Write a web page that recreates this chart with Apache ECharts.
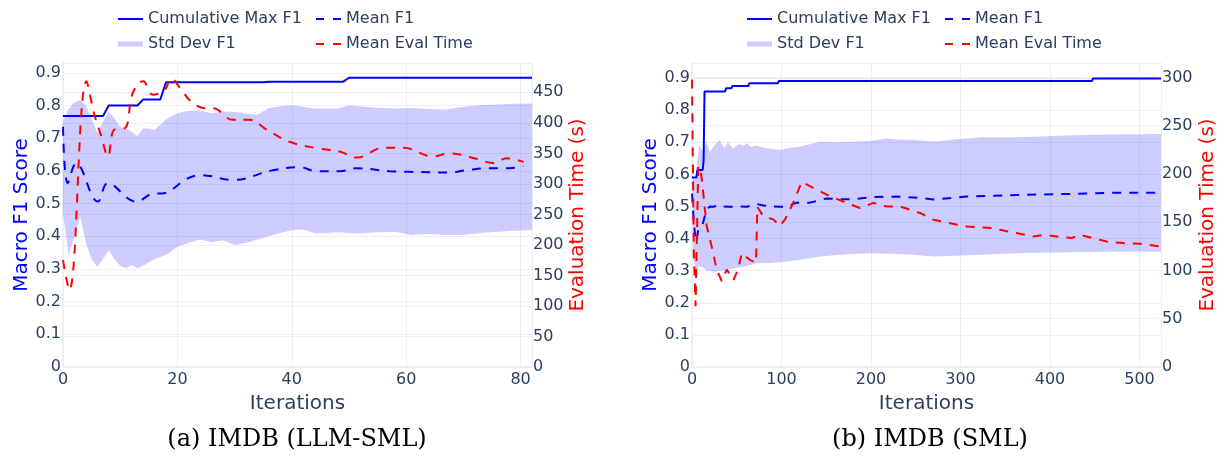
<!DOCTYPE html>
<html>
<head>
<meta charset="utf-8">
<script src="https://cdn.jsdelivr.net/npm/echarts@6/dist/echarts.min.js"></script>
<style>
  html, body { margin: 0; padding: 0; background: #fff; }
  #chart { width: 1225px; height: 459px; }
</style>
</head>
<body>
<div id="chart"></div>
<script>
// ---- (a) IMDB (LLM-SML) ----
var cumMaxXA = [0, 7, 8, 13, 14, 17, 18, 35, 36, 49, 50, 82];
var cumMaxA  = [0.768, 0.768, 0.80, 0.80, 0.818, 0.818, 0.871, 0.871, 0.873, 0.873, 0.885, 0.885];

var meanXA = [0, 0.85, 2.3, 6.1, 7.85, 12.8, 16, 17.2, 21.8, 24.2, 29.7, 36.7, 41.4, 44.3, 48.4, 51.3, 57.1, 60.6, 67.6, 70.6, 74.6, 78.1, 80.5];
var meanA  = [0.735, 0.562, 0.623, 0.506, 0.562, 0.506, 0.531, 0.531, 0.577, 0.587, 0.572, 0.602, 0.611, 0.599, 0.599, 0.608, 0.599, 0.597, 0.595, 0.602, 0.608, 0.608, 0.615];

var timeXA = [0, 1.1, 4.1, 5.5, 6.7, 7.85, 9, 10.8, 12.2, 14, 15.7, 17.8, 18.9, 20.7, 22.4, 24.8, 26.2, 29.7, 32.6, 35.6, 39.6, 44.6, 48.4, 51.3, 56, 59.5, 64.7, 67.6, 72.3, 75.2, 77.6, 80.5];
var timeA  = [175, 126, 468, 413, 378, 345, 389, 391, 449, 468, 446, 454, 473, 454, 435, 424, 424, 405, 405, 389, 369, 358, 353, 343, 359, 359, 345, 350, 341, 334, 342, 336];

var bandXA  = [0, 1, 2, 3, 4, 5, 6, 7, 8, 9, 10, 11, 12, 13, 14, 15, 16, 18, 20, 22, 24, 26, 28, 30, 32, 34, 36, 38, 40, 42, 44, 46, 48, 50, 52, 55, 58, 61, 64, 67, 70, 73, 76, 79, 82];
var bandHiA = [0.75, 0.79, 0.81, 0.817, 0.80, 0.76, 0.715, 0.75, 0.781, 0.76, 0.735, 0.73, 0.72, 0.706, 0.73, 0.73, 0.725, 0.757, 0.776, 0.784, 0.785, 0.776, 0.782, 0.78, 0.775, 0.772, 0.792, 0.798, 0.801, 0.796, 0.791, 0.79, 0.791, 0.80, 0.797, 0.793, 0.791, 0.792, 0.789, 0.788, 0.796, 0.801, 0.803, 0.805, 0.806];
var bandLoA = [0.47, 0.34, 0.40, 0.46, 0.38, 0.33, 0.307, 0.33, 0.358, 0.33, 0.31, 0.302, 0.312, 0.302, 0.31, 0.32, 0.33, 0.343, 0.368, 0.38, 0.39, 0.382, 0.388, 0.373, 0.38, 0.39, 0.40, 0.41, 0.418, 0.421, 0.409, 0.41, 0.412, 0.41, 0.409, 0.412, 0.414, 0.404, 0.407, 0.404, 0.404, 0.41, 0.414, 0.417, 0.419];

// ---- (b) IMDB (SML) ----
var cumMaxXB = [0, 5, 6, 12, 13, 14, 37, 38, 44, 45, 63, 64, 96, 97, 447, 448, 524];
var cumMaxB  = [0.59, 0.59, 0.614, 0.614, 0.645, 0.858, 0.858, 0.868, 0.868, 0.875, 0.875, 0.884, 0.884, 0.891, 0.891, 0.899, 0.899];

var meanXB = [0, 2, 4, 5, 7, 9, 12, 14, 16, 20, 24, 30, 35, 42, 50, 61, 72, 80, 90, 98, 106, 117, 132, 150, 165, 180, 199, 229, 254, 270, 307, 363, 419, 471, 523];
var meanB  = [0.54, 0.45, 0.40, 0.39, 0.43, 0.427, 0.445, 0.44, 0.489, 0.50, 0.499, 0.505, 0.50, 0.499, 0.50, 0.499, 0.508, 0.503, 0.50, 0.499, 0.499, 0.512, 0.512, 0.525, 0.523, 0.522, 0.529, 0.531, 0.527, 0.522, 0.531, 0.536, 0.539, 0.543, 0.543];

var timeXB = [0, 2, 4, 7, 9.7, 12.6, 16.4, 22, 27.6, 33.2, 38.8, 46.2, 51.8, 55.5, 64.8, 71.5, 73, 79.7, 90.8, 98.3, 104, 113, 122.6, 135.5, 150.5, 172.8, 187.7, 202.6, 217.5, 232.4, 254.7, 269.6, 306.9, 336.7, 344, 381, 394, 407.5, 424, 433.5, 463.3, 482, 500.6, 523];
var timeB  = [298, 120, 63, 208, 204, 180, 146, 125, 101, 89, 101, 90, 102, 118, 111, 108, 166, 156, 153, 146, 153, 170, 192, 185.5, 178.6, 170, 164.7, 170, 166.4, 166.4, 159.6, 152.6, 145.6, 144, 142.2, 135.3, 137, 135.3, 133.6, 137, 130, 128.4, 127.7, 124.9];

var bandXB  = [1, 3, 5, 8, 10, 13, 16, 20, 25, 31, 36, 40, 46, 52, 58, 61, 66, 72, 80, 90, 98, 110, 120, 143, 160, 180, 200, 217, 230, 250, 270, 300, 325, 350, 381, 410, 437, 470, 500, 524];
var bandHiB = [0.59, 0.58, 0.62, 0.69, 0.681, 0.67, 0.702, 0.67, 0.69, 0.707, 0.68, 0.70, 0.681, 0.695, 0.69, 0.697, 0.685, 0.69, 0.683, 0.679, 0.676, 0.683, 0.686, 0.702, 0.70, 0.702, 0.705, 0.712, 0.709, 0.707, 0.702, 0.71, 0.716, 0.715, 0.717, 0.72, 0.723, 0.724, 0.725, 0.726];
var bandLoB = [0.34, 0.32, 0.30, 0.315, 0.312, 0.31, 0.30, 0.30, 0.297, 0.30, 0.30, 0.305, 0.307, 0.31, 0.313, 0.315, 0.318, 0.323, 0.323, 0.325, 0.326, 0.33, 0.333, 0.344, 0.348, 0.352, 0.354, 0.353, 0.352, 0.349, 0.344, 0.347, 0.35, 0.353, 0.356, 0.357, 0.358, 0.359, 0.36, 0.359];

var BLUE = '#0000ff', RED = '#ff0000', BAND = 'rgba(0,0,255,0.2)';
var GRIDC = '#EBF0F8', TXT = '#2a3f5f', FONT = 'DejaVu Sans';

function zip(xs, ys) { return xs.map(function (x, i) { return [x, ys[i]]; }); }

var chart = echarts.init(document.getElementById('chart'));

function xAx(idx, max) {
  return {
    type: 'value', gridIndex: idx, min: 0, max: max, interval: idx ? 100 : 20,
    name: 'Iterations', nameLocation: 'middle', nameGap: 27,
    nameTextStyle: { fontSize: 20, color: TXT, fontFamily: FONT },
    axisLine: { show: true, lineStyle: { color: GRIDC, width: 2 } },
    axisTick: { show: false },
    axisLabel: { fontSize: 16, color: TXT, fontFamily: FONT, margin: 5, showMaxLabel: false },
    splitLine: { lineStyle: { color: GRIDC, width: 1 } }
  };
}
function yLeft(idx, max, gap) {
  return {
    type: 'value', gridIndex: idx, min: 0, max: max, interval: 0.1, position: 'left',
    name: 'Macro F1 Score', nameLocation: 'middle', nameGap: gap,
    nameTextStyle: { fontSize: 20, color: BLUE, fontFamily: FONT },
    axisLine: { show: true, lineStyle: { color: GRIDC, width: 2 } },
    axisTick: { show: false },
    axisLabel: { fontSize: 16, color: TXT, fontFamily: FONT, margin: 2, showMaxLabel: false },
    splitLine: { lineStyle: { color: GRIDC, width: 1 } }
  };
}
function yRight(idx, max, gap) {
  return {
    type: 'value', gridIndex: idx, min: 0, max: max, interval: 50, position: 'right',
    name: 'Evaluation Time (s)', nameLocation: 'middle', nameGap: gap,
    nameTextStyle: { fontSize: 20, color: RED, fontFamily: FONT },
    axisLine: { show: false },
    axisTick: { show: false },
    axisLabel: { fontSize: 16, color: TXT, fontFamily: FONT, margin: 1, showMaxLabel: false },
    splitLine: { lineStyle: { color: GRIDC, width: 1 } }
  };
}

// std band polygon: upper edge forward, lower edge back, via the axis scales
function bandSeries(g, bx, blo, bhi) {
  return {
    name: 'Std Dev F1', type: 'custom', xAxisIndex: g, yAxisIndex: g * 2, silent: true,
    data: zip(bx, bhi), encode: { x: 0, y: 1 }, itemStyle: { color: BAND },
    renderItem: function (params, api) {
      if (params.dataIndex !== 0) return null;
      var pts = [];
      for (var i = 0; i < bx.length; i++) pts.push(api.coord([bx[i], bhi[i]]));
      for (var j = bx.length - 1; j >= 0; j--) pts.push(api.coord([bx[j], blo[j]]));
      return { type: 'polygon', shape: { points: pts }, style: { fill: BAND } };
    }
  };
}

function seriesFor(g, bx, blo, bhi, cx, cy, mx, my, tx, ty) {
  var xi = g, yl = g * 2, yr = g * 2 + 1;
  return [
    bandSeries(g, bx, blo, bhi),
    { name: 'Cumulative Max F1', type: 'line', xAxisIndex: xi, yAxisIndex: yl,
      data: zip(cx, cy), symbol: 'none', itemStyle: { color: BLUE },
      lineStyle: { color: BLUE, width: 2 } },
    { name: 'Mean F1', type: 'line', xAxisIndex: xi, yAxisIndex: yl,
      data: zip(mx, my), symbol: 'none', smooth: g === 0 ? 0.4 : false, itemStyle: { color: BLUE },
      lineStyle: { color: BLUE, width: 2, type: [9, 8] } },
    { name: 'Mean Eval Time', type: 'line', xAxisIndex: xi, yAxisIndex: yr,
      data: zip(tx, ty), symbol: 'none', smooth: g === 0 ? 0.4 : false, itemStyle: { color: RED },
      lineStyle: { color: RED, width: 2, type: [9, 8] } }
  ];
}

var SOLID = 'path://M0,0h25v2h-25z';
var DASHED = 'path://M0,0h8v2h-8z M17,0h8v2h-8z';
function lg(item, left, top, h) {
  return {
    data: [item], left: left, top: top, itemWidth: 25, itemHeight: h, itemGap: 0,
    selectedMode: false, padding: 0,
    textStyle: { fontSize: 16, color: TXT, fontFamily: FONT }
  };
}
function row(left, top) {
  return [
    lg({ name: 'Cumulative Max F1', icon: SOLID, itemStyle: { color: BLUE } }, left, top, 2),
    lg({ name: 'Mean F1', icon: DASHED, itemStyle: { color: BLUE } }, left + 198, top, 2),
    lg({ name: 'Std Dev F1', icon: 'rect', itemStyle: { color: BAND } }, left, top + 25, 5),
    lg({ name: 'Mean Eval Time', icon: DASHED, itemStyle: { color: RED } }, left + 198, top + 25, 2)
  ];
}

chart.setOption({
  animation: false,
  backgroundColor: '#ffffff',
  grid: [
    { left: 63, right: 693, top: 63, bottom: 92 },
    { left: 692, right: 64, top: 63, bottom: 92 }
  ],
  legend: row(118, 11).concat(row(747, 11)),
  xAxis: [xAx(0, 82), xAx(1, 524)],
  yAxis: [yLeft(0, 0.93, 29), yRight(0, 498, 36), yLeft(1, 0.947, 29), yRight(1, 315, 37)],
  series: seriesFor(0, bandXA, bandLoA, bandHiA, cumMaxXA, cumMaxA, meanXA, meanA, timeXA, timeA)
    .concat(seriesFor(1, bandXB, bandLoB, bandHiB, cumMaxXB, cumMaxB, meanXB, meanB, timeXB, timeB)),
  graphic: [
    { type: 'text', x: 297, y: 440, style: { text: '(a) IMDB (LLM-SML)', textAlign: 'center', textVerticalAlign: 'middle', font: '24px "DejaVu Serif"', fill: '#000' } },
    { type: 'text', x: 930, y: 440, style: { text: '(b) IMDB (SML)', textAlign: 'center', textVerticalAlign: 'middle', font: '24px "DejaVu Serif"', fill: '#000' } }
  ]
});
</script>
</body>
</html>
